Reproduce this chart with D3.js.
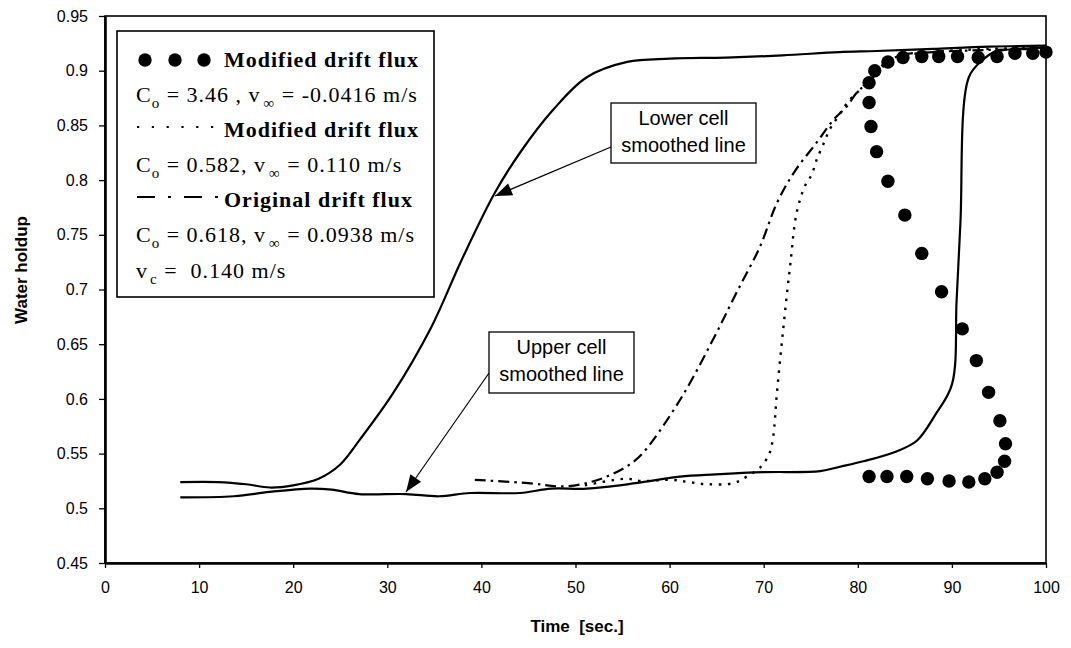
<!DOCTYPE html>
<html>
<head>
<meta charset="utf-8">
<script src="https://cdn.jsdelivr.net/npm/d3@7/dist/d3.min.js"></script>
<style>
  html, body { margin: 0; padding: 0; background: #fff; }
  svg { display: block; }
</style>
</head>
<body>
<svg id="chart" width="1071" height="648"></svg>
<script>
// ---------------- DATA ----------------
const xTicks = [0, 10, 20, 30, 40, 50, 60, 70, 80, 90, 100];
const yTicks = [0.45, 0.5, 0.55, 0.6, 0.65, 0.7, 0.75, 0.8, 0.85, 0.9, 0.95];

// Lower cell smoothed line
const lowerT = [8, 12, 15, 17.5, 20, 22.7, 25, 27.1, 30.6, 34.7, 37.9, 41.4, 44.1, 47.6, 51.2, 55.5, 60, 66, 72, 78, 82, 88, 94, 100];
const lowerV = [0.524, 0.524, 0.522, 0.519, 0.521, 0.527, 0.540, 0.563, 0.605, 0.666, 0.727, 0.788, 0.825, 0.864, 0.894, 0.908, 0.911, 0.912, 0.914, 0.917, 0.918, 0.920, 0.922, 0.923];

// Upper cell smoothed line
const upperT = [8, 13.7, 17.5, 21.8, 24.1, 27, 32, 35.5, 38.8, 44.1, 47.4, 51.2, 56.4, 61.1, 64.9, 70, 76, 78.1, 80.6, 84.1, 86.3, 88.2, 90.0, 90.5, 90.9, 91.8, 93.3, 94.5, 97, 100];
const upperV = [0.510, 0.511, 0.515, 0.518, 0.517, 0.513, 0.513, 0.511, 0.514, 0.514, 0.518, 0.518, 0.523, 0.529, 0.531, 0.533, 0.534, 0.538, 0.543, 0.552, 0.562, 0.585, 0.613, 0.690, 0.760, 0.894, 0.910, 0.917, 0.920, 0.921];

// Original drift flux (dash-dot)
const origT = [39.3, 45, 48.8, 51.6, 53.6, 55.4, 57.1, 61.1, 64.6, 67.1, 69.6, 71.4, 73.3, 75.6, 77.4, 78.8, 79.9, 81.3, 83.1, 84.5, 88, 94, 100];
const origV = [0.526, 0.523, 0.520, 0.524, 0.530, 0.538, 0.550, 0.599, 0.654, 0.697, 0.739, 0.779, 0.808, 0.834, 0.855, 0.867, 0.880, 0.891, 0.907, 0.914, 0.917, 0.919, 0.920];

// Modified drift flux, Co = 0.582 (dotted)
const mod2T = [51, 55.4, 57, 60.2, 62, 64, 66.8, 68.2, 69.7, 70.6, 71.0, 71.4, 72.1, 72.8, 73.5, 74.4, 75.1, 75.6, 76.3, 77, 77.9, 79, 80.4, 82, 84, 88, 94, 100];
const mod2V = [0.521, 0.527, 0.525, 0.526, 0.524, 0.522, 0.523, 0.529, 0.538, 0.550, 0.565, 0.605, 0.666, 0.721, 0.770, 0.795, 0.805, 0.818, 0.832, 0.846, 0.858, 0.872, 0.884, 0.900, 0.912, 0.917, 0.920, 0.921];

// Modified drift flux, Co = 3.46 (filled circles)
const mod1T = [81.2, 83.1, 85.2, 87.4, 89.7, 91.8, 93.5, 94.8, 95.6, 95.7, 95.1, 93.9, 92.6, 91.1, 88.9, 86.8, 85.0, 83.2, 82.0, 81.4, 81.2, 81.2, 81.8, 83.2, 84.8, 86.8, 88.6, 90.6, 92.8, 94.8, 96.7, 98.6, 100];
const mod1V = [0.529, 0.529, 0.529, 0.527, 0.525, 0.524, 0.527, 0.533, 0.543, 0.559, 0.580, 0.606, 0.635, 0.664, 0.698, 0.733, 0.768, 0.799, 0.826, 0.849, 0.871, 0.889, 0.900, 0.908, 0.912, 0.913, 0.913, 0.913, 0.912, 0.913, 0.916, 0.916, 0.917];

// ---------------- CHART ----------------
const svg = d3.select("#chart");
const x = d3.scaleLinear().domain([0, 100]).range([105, 1046]);
const y = d3.scaleLinear().domain([0.45, 0.95]).range([563, 16]);

const sans = "'Liberation Sans', Arial, sans-serif";
const serif = "'Liberation Serif', 'Times New Roman', serif";

const zip = (ts, vs) => ts.map((t, i) => [t, vs[i]]);
const line = d3.line().x(d => x(d[0])).y(d => y(d[1])).curve(d3.curveCatmullRom.alpha(0.5));

// Series lines
svg.append("path").attr("d", line(zip(lowerT, lowerV)))
  .attr("fill", "none").attr("stroke", "#000").attr("stroke-width", 2.2);
svg.append("path").attr("d", line(zip(upperT, upperV)))
  .attr("fill", "none").attr("stroke", "#000").attr("stroke-width", 2.2);
svg.append("path").attr("d", line(zip(origT, origV)))
  .attr("fill", "none").attr("stroke", "#000").attr("stroke-width", 2.2)
  .attr("stroke-dasharray", "11,5,2.5,5");
svg.append("path").attr("d", line(zip(mod2T, mod2V)))
  .attr("fill", "none").attr("stroke", "#000").attr("stroke-width", 2.4)
  .attr("stroke-dasharray", "2.5,6.5");

// Markers
svg.append("g").selectAll("circle").data(zip(mod1T, mod1V)).join("circle")
  .attr("cx", d => x(d[0])).attr("cy", d => y(d[1])).attr("r", 6.7).attr("fill", "#000");

// Plot frame
svg.append("rect").attr("x", x(0)).attr("y", y(0.95))
  .attr("width", x(100) - x(0)).attr("height", y(0.45) - y(0.95))
  .attr("fill", "none").attr("stroke", "#000").attr("stroke-width", 1.6);

// Axes
const xAxis = d3.axisBottom(x).tickValues(xTicks).tickSize(5).tickSizeOuter(0).tickPadding(14)
  .tickFormat(d3.format("d"));
const gx = svg.append("g").attr("transform", `translate(0,${y(0.45)})`).call(xAxis);
gx.select(".domain").attr("stroke-width", 2.6);
gx.selectAll(".tick line").attr("stroke-width", 1.3);
gx.selectAll("text").attr("font-family", sans).attr("font-size", 16).attr("fill", "#000");

const yAxis = d3.axisLeft(y).tickValues(yTicks).tickSize(6).tickSizeOuter(0).tickPadding(11)
  .tickFormat(d => String(+d.toFixed(2)));
const gy = svg.append("g").attr("transform", `translate(${x(0)},0)`).call(yAxis);
gy.select(".domain").attr("stroke-width", 2.6);
gy.selectAll(".tick line").attr("stroke-width", 1.3);
gy.selectAll("text").attr("font-family", sans).attr("font-size", 16).attr("fill", "#000");

// Axis titles
svg.append("text").attr("x", 577).attr("y", 632).attr("text-anchor", "middle")
  .attr("font-family", sans).attr("font-size", 17).attr("font-weight", "bold")
  .attr("xml:space", "preserve").text("Time  [sec.]");
svg.append("text").attr("transform", "translate(27,270) rotate(-90)").attr("text-anchor", "middle")
  .attr("font-family", sans).attr("font-size", 17).attr("font-weight", "bold").text("Water holdup");

// Legend box
const lg = svg.append("g");
lg.append("rect").attr("x", 117).attr("y", 31).attr("width", 317).attr("height", 266)
  .attr("fill", "#fff").attr("stroke", "#000").attr("stroke-width", 1.6);

const fs = 22, sub = 15, ls = "1px";
// line 1
[145, 175, 204].forEach(cx => lg.append("circle").attr("cx", cx).attr("cy", 60).attr("r", 6.7).attr("fill", "#000"));
lg.append("text").attr("x", 224).attr("y", 67).attr("font-family", serif).attr("font-size", fs)
  .attr("letter-spacing", ls).attr("font-weight", "bold").text("Modified drift flux");
// line 3
lg.append("line").attr("x1", 137).attr("x2", 222).attr("y1", 127).attr("y2", 127)
  .attr("stroke", "#000").attr("stroke-width", 2.2).attr("stroke-dasharray", "2.2,12.6");
lg.append("text").attr("x", 224).attr("y", 137).attr("font-family", serif).attr("font-size", fs)
  .attr("letter-spacing", ls).attr("font-weight", "bold").text("Modified drift flux");
// line 5
lg.append("line").attr("x1", 137).attr("x2", 222).attr("y1", 197).attr("y2", 197)
  .attr("stroke", "#000").attr("stroke-width", 2.2).attr("stroke-dasharray", "18,13,3,13");
lg.append("text").attr("x", 224).attr("y", 207).attr("font-family", serif).attr("font-size", fs)
  .attr("letter-spacing", ls).attr("font-weight", "bold").text("Original drift flux");

function coLine(yy, co, vinf) {
  const t = lg.append("text").attr("x", 136).attr("y", yy).attr("font-family", serif)
    .attr("font-size", fs).attr("letter-spacing", ls).attr("xml:space", "preserve");
  t.append("tspan").text("C");
  t.append("tspan").attr("font-size", sub).attr("dy", 6).text("o");
  t.append("tspan").attr("dy", -6).text(" = " + co + ", v");
  t.append("tspan").attr("font-size", sub).attr("dy", 6).attr("dx", 3).text("∞");
  t.append("tspan").attr("dy", -6).text(" = " + vinf + " m/s");
}
coLine(102, "3.46 ", "-0.0416");
coLine(172, "0.582", "0.110");
coLine(242, "0.618", "0.0938");
{
  const t = lg.append("text").attr("x", 136).attr("y", 278).attr("font-family", serif)
    .attr("font-size", fs).attr("letter-spacing", ls).attr("xml:space", "preserve");
  t.append("tspan").text("v");
  t.append("tspan").attr("font-size", sub).attr("dy", 6).attr("dx", 2).text("c");
  t.append("tspan").attr("dy", -6).text(" =  0.140 m/s");
}

// Annotations
function callout(bx, by, bw, bh, lines, from, tip) {
  const g = svg.append("g");
  g.append("line").attr("x1", from[0]).attr("y1", from[1]).attr("x2", tip[0]).attr("y2", tip[1])
    .attr("stroke", "#000").attr("stroke-width", 1.2);
  const ang = Math.atan2(tip[1] - from[1], tip[0] - from[0]);
  const L = 17, W = 6.5;
  const bxp = tip[0] - L * Math.cos(ang), byp = tip[1] - L * Math.sin(ang);
  const p1 = [bxp + W * Math.sin(ang), byp - W * Math.cos(ang)];
  const p2 = [bxp - W * Math.sin(ang), byp + W * Math.cos(ang)];
  g.append("polygon").attr("points", [tip, p1, p2].map(p => p.join(",")).join(" ")).attr("fill", "#000");
  g.append("rect").attr("x", bx).attr("y", by).attr("width", bw).attr("height", bh)
    .attr("fill", "#fff").attr("stroke", "#000").attr("stroke-width", 1.3);
  lines.forEach((s, i) => g.append("text").attr("x", bx + bw / 2).attr("y", by + 22 + i * 27)
    .attr("text-anchor", "middle").attr("font-family", sans).attr("font-size", 20).text(s));
}
callout(611, 103, 145, 60, ["Lower cell", "smoothed line"], [611, 147], [495, 196]);
callout(489, 332, 145, 61, ["Upper cell", "smoothed line"], [489, 373], [406, 492]);
</script>
</body>
</html>
